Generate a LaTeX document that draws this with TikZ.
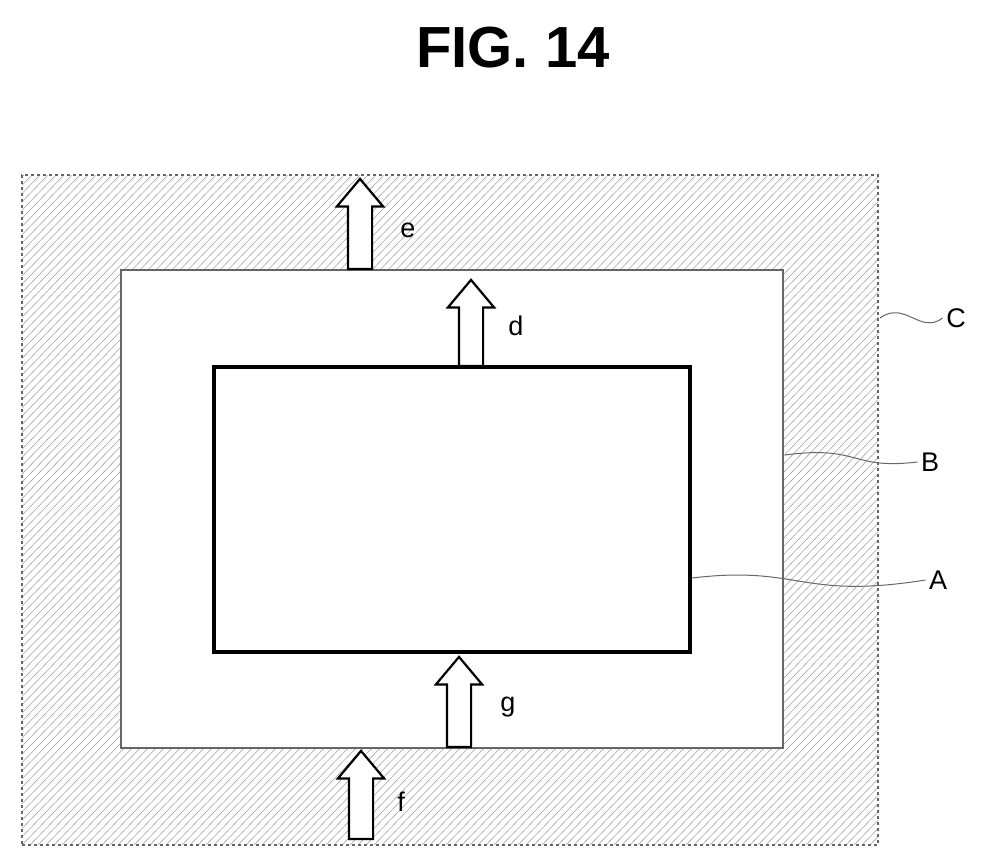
\documentclass[tikz,border=0pt]{standalone}
\usepackage{fontspec}
\setmainfont{Liberation Sans}
\usetikzlibrary{shapes.arrows}
\begin{document}
\begin{tikzpicture}[x=1pt,y=-1pt,
  box/.style={draw,fill=white},
  blk/.style={single arrow,draw=black,line width=2.2pt,fill=white,rotate=90,
    minimum height=#1,minimum width=46pt,single arrow head extend=11pt,
    single arrow tip angle=80,inner sep=0pt,anchor=tail},
  lbl/.style={font=\fontsize{27}{29}\selectfont},
  lead/.style={draw=black!60,line width=1pt}]
\useasboundingbox (0,0) rectangle (988,867);
\node[font=\bfseries\fontsize{58}{62}\selectfont] (title) at (513,48) {FIG. 14};
\begin{scope}
\clip (22,175) rectangle (878,845);
\foreach \i in {0,8,...,1600}{\draw[black!35,line width=0.6pt] (\i-650,845) -- (\i,175);}
\end{scope}
\node[draw=black!60,dashed,line width=1.3pt,minimum width=856pt,minimum height=670pt,inner sep=0pt] (C) at (450,510) {};
\node[box,draw=black!60,line width=2.6pt,minimum width=662pt,minimum height=478pt,inner sep=0pt] (B) at (452,509) {};
\node[box,line width=3.5pt,minimum width=476pt,minimum height=285pt,inner sep=0pt] (A) at (452,509.5) {};
\node[blk=90pt] (e) at (360,270) {\rule{0pt}{22pt}};
\node[blk=86pt] (d) at (471,367) {\rule{0pt}{22pt}};
\node[blk=90pt] (g) at (459,748) {\rule{0pt}{22pt}};
\node[blk=88pt] (f) at (361,840) {\rule{0pt}{22pt}};
\node[lbl] (le) at (408,230) {e};
\node[lbl] (ld) at (516,326) {d};
\node[lbl] (lg) at (508,707) {g};
\node[lbl] (lf) at (401,802) {f};
\node[lbl] (lC) at (956,318) {C};
\node[lbl] (lB) at (930,462) {B};
\node[lbl] (lA) at (938,580) {A};
\coordinate (cC) at (880,318);
\coordinate (cB) at (785,455);
\coordinate (cA) at (692,578);
\draw[lead] (cC) .. controls (905,300) and (920,335) .. (lC.west);
\draw[lead] (cB) .. controls (860,445) and (850,470) .. (lB.west);
\draw[lead] (cA) .. controls (800,565) and (800,600) .. (lA.west);
\end{tikzpicture}
\end{document}
